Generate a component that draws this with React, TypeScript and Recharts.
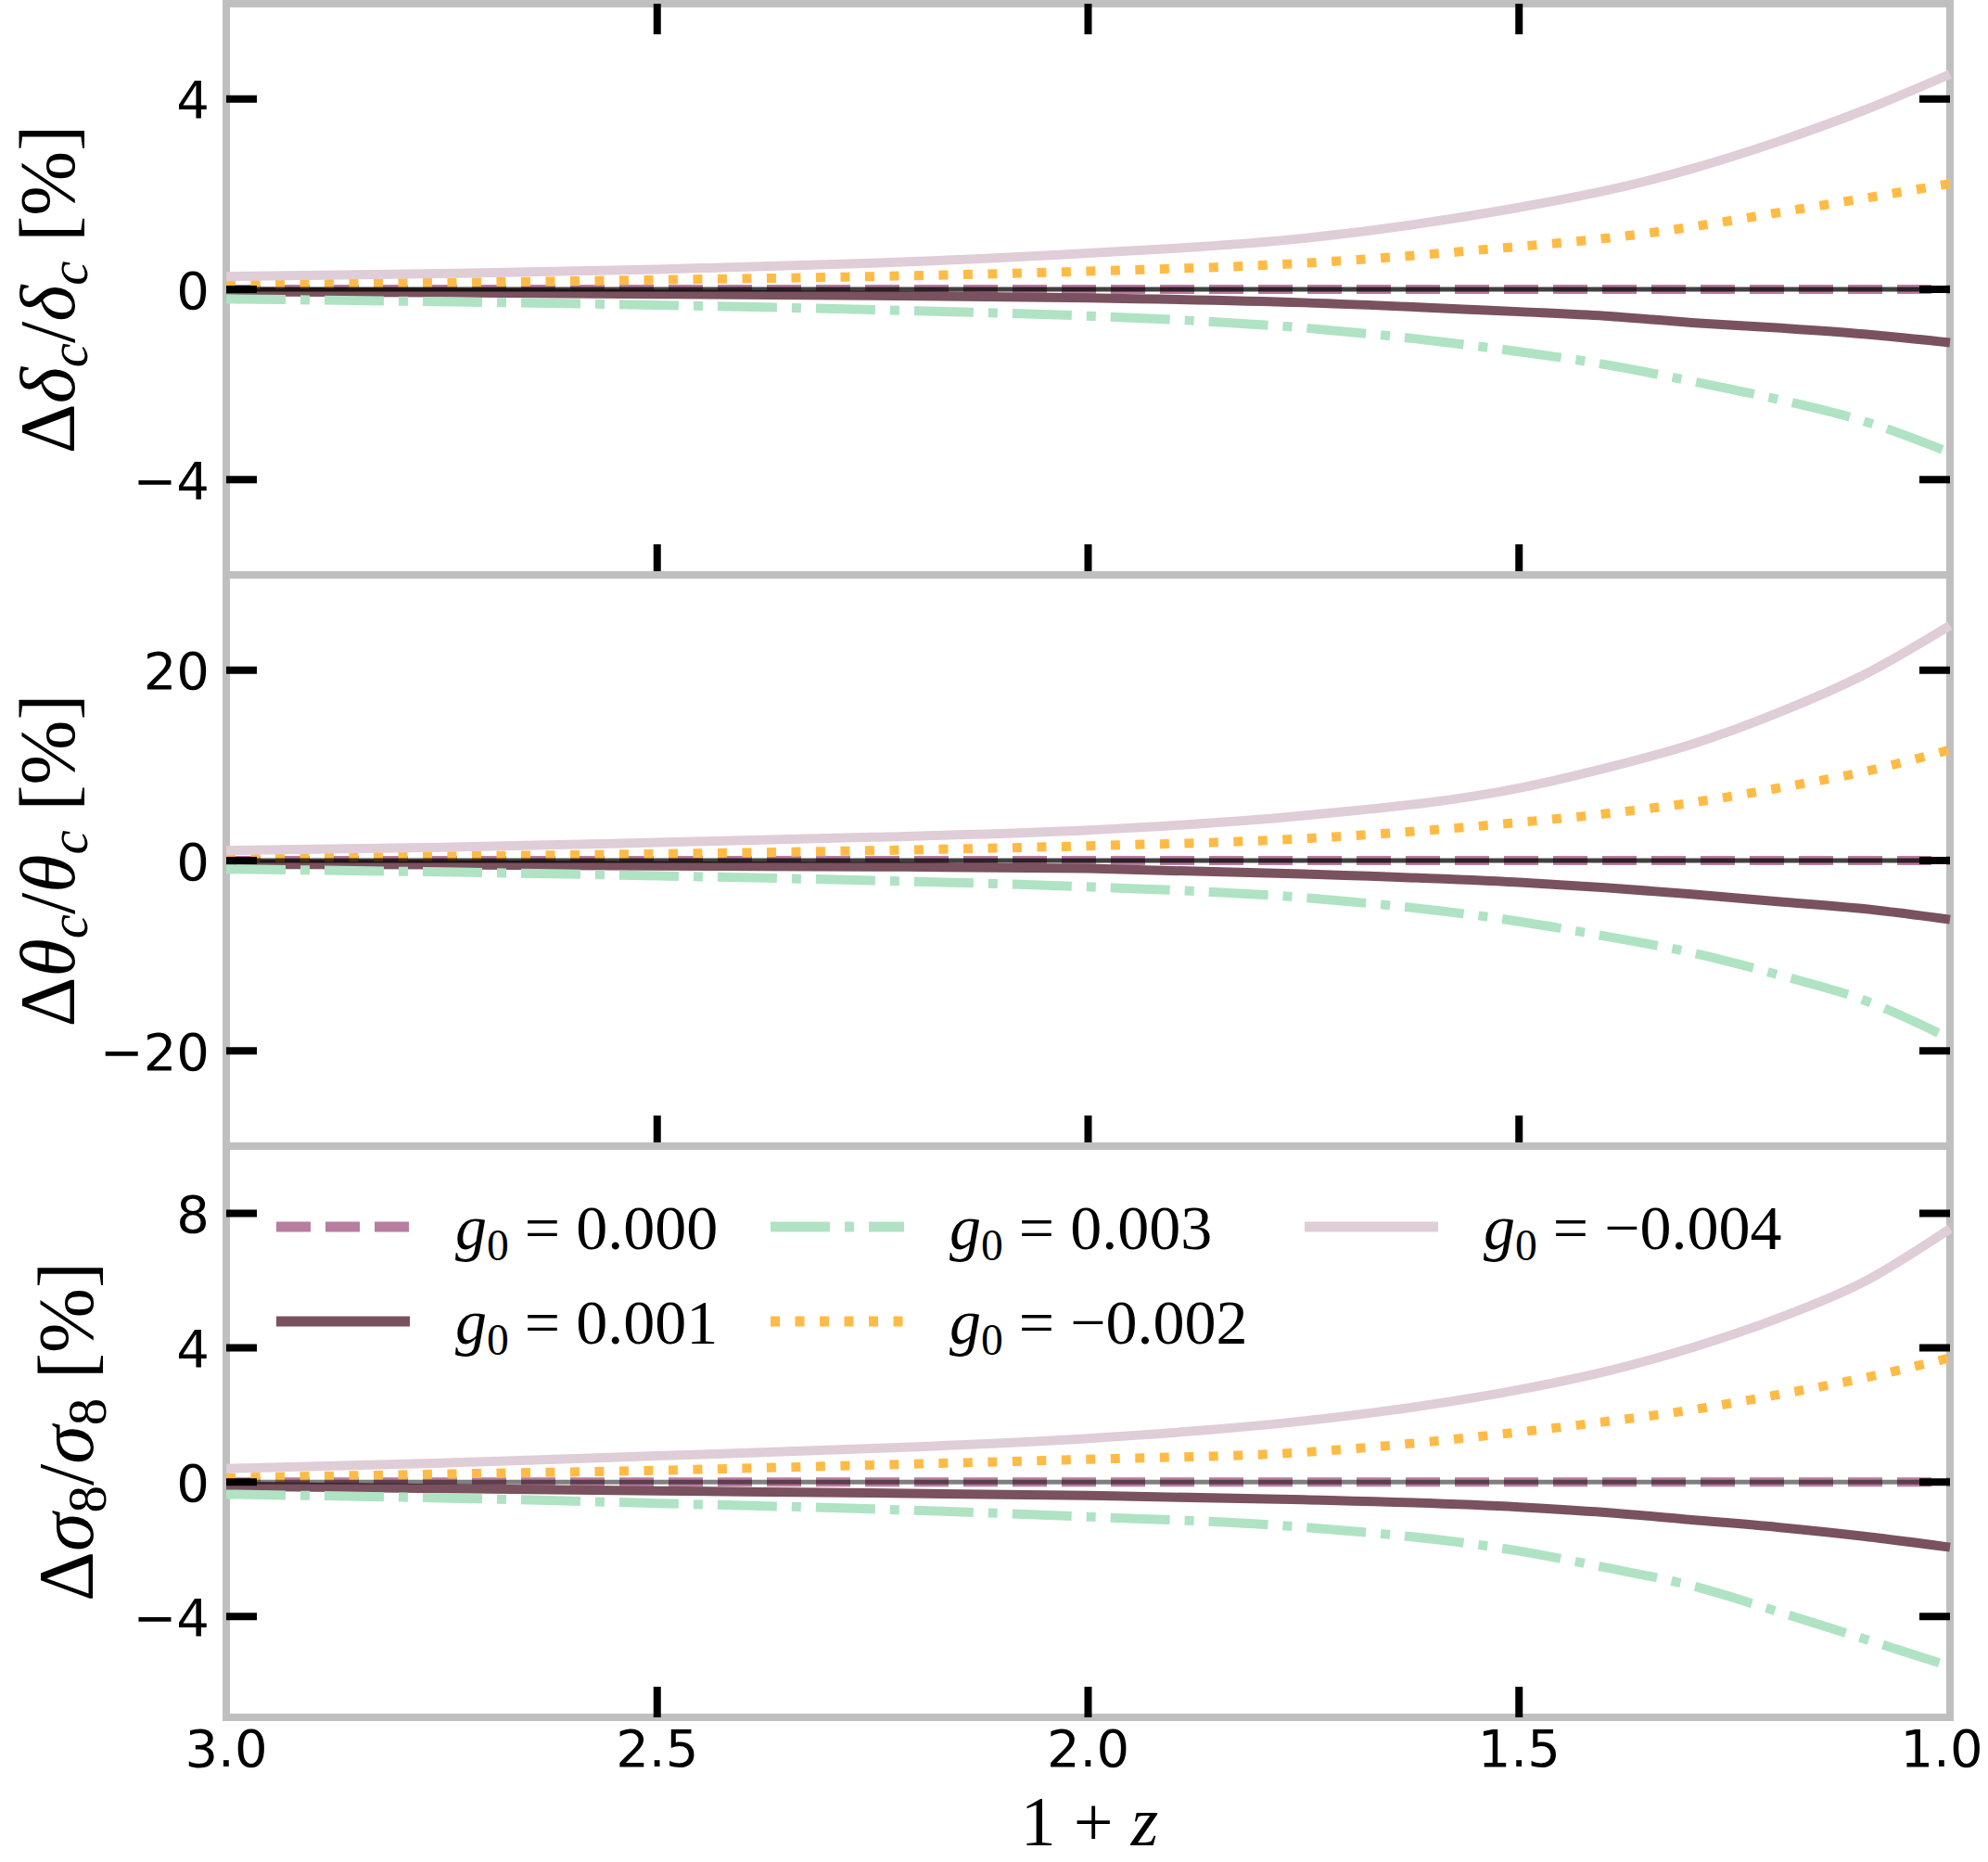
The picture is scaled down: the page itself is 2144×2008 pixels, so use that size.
import React from "react";
import {
  LineChart,
  Line,
  XAxis,
  YAxis,
  ReferenceLine,
  ReferenceArea,
  Legend
} from "recharts";

const W = 2144;
const H = 2008;
const PLOT_LEFT = 244;
const PLOT_RIGHT = 2103;
const TICK_LEN = 33;
const MATH_FONT = "Liberation Serif";
const TICK_FONT = "DejaVu Sans";

// 1 + z sample points (axis runs 3.0 -> 1.0)
const zGrid = [3.0, 2.75, 2.5, 2.25, 2.0, 1.75, 1.5, 1.4, 1.3, 1.2, 1.1, 1.0];
const xTicks = [3.0, 2.5, 2.0, 1.5, 1.0];

// g0 = 0.000 is the reference model, zero everywhere
const zeroCurve = [0, 0, 0, 0, 0, 0, 0, 0, 0, 0, 0, 0];

// Δδc/δc [%]
const deltaG001 = [-0.05, -0.07, -0.1, -0.13, -0.18, -0.28, -0.47, -0.56, -0.7, -0.81, -0.94, -1.12];
const deltaG003 = [-0.2, -0.26, -0.33, -0.43, -0.56, -0.81, -1.31, -1.58, -1.93, -2.31, -2.77, -3.43];
const deltaGm002 = [0.1, 0.14, 0.2, 0.27, 0.38, 0.55, 0.9, 1.07, 1.31, 1.61, 1.91, 2.22];
const deltaGm004 = [0.27, 0.33, 0.42, 0.55, 0.76, 1.07, 1.72, 2.07, 2.53, 3.1, 3.76, 4.52];

// Δθc/θc [%]
const thetaG001 = [-0.4, -0.45, -0.55, -0.65, -0.84, -1.42, -2.3, -2.84, -3.53, -4.3, -5.07, -6.2];
const thetaG003 = [-0.9, -1.2, -1.6, -2.1, -2.76, -3.9, -6.4, -7.95, -9.67, -11.98, -14.66, -18.7];
const thetaGm002 = [0.28, 0.45, 0.7, 1.05, 1.54, 2.3, 4.0, 4.91, 6.07, 7.6, 9.33, 11.63];
const thetaGm004 = [1.05, 1.4, 1.9, 2.45, 3.19, 4.72, 7.6, 9.7, 12.2, 15.5, 19.5, 24.7];

// Δσ8/σ8 [%]
const sigmaG001 = [-0.12, -0.19, -0.26, -0.32, -0.4, -0.52, -0.74, -0.9, -1.12, -1.34, -1.61, -1.94];
const sigmaG003 = [-0.36, -0.47, -0.63, -0.8, -1.03, -1.34, -2.05, -2.54, -3.08, -3.85, -4.66, -5.48];
const sigmaGm002 = [0.13, 0.24, 0.35, 0.51, 0.68, 0.89, 1.49, 1.8, 2.15, 2.6, 3.1, 3.7];
const sigmaGm004 = [0.4, 0.57, 0.78, 1.0, 1.3, 1.82, 2.75, 3.29, 4.0, 4.87, 5.96, 7.54];

const seriesKeys = ["g000", "g001", "g003", "gm002", "gm004"];
const seriesLabels = ["0.000", "0.001", "0.003", "\u22120.002", "\u22120.004"];
const seriesColors = ["#b87d9f", "#7a515e", "#afe3c3", "#ffbb45", "#dfcdd7"];
const seriesDashes = ["37 16", undefined, "64 16 10 16", "10 16.5", undefined];

const buildRows = (cols: number[][]) =>
  zGrid.map((z, i) => {
    const row: Record<string, number> = { z };
    seriesKeys.forEach((k, j) => {
      row[k] = cols[j][i];
    });
    return row;
  });

type Part = { t: string; it?: boolean; sub?: boolean };

const renderParts = (parts: Part[], size: number) => {
  let shift = 0;
  return parts.map((p, i) => {
    const target = p.sub ? size * 0.17 : 0;
    const dy = target - shift;
    shift = target;
    return (
      <tspan
        key={i}
        dy={dy}
        fontStyle={p.it ? "italic" : "normal"}
        fontSize={p.sub ? size * 0.7 : size}
        style={{ whiteSpace: "pre" }}
      >
        {p.t}
      </tspan>
    );
  });
};

const panels = [
  {
    id: "delta",
    top: 4,
    bottom: 620,
    domain: [-6, 6],
    ticks: [-4, 0, 4],
    cols: [zeroCurve, deltaG001, deltaG003, deltaGm002, deltaGm004],
    zeroOpacity: 0.75,
    titleX: 80,
    title: [
      { t: "\u0394" },
      { t: "\u03b4", it: true },
      { t: "c", it: true, sub: true },
      { t: "/" },
      { t: "\u03b4", it: true },
      { t: "c", it: true, sub: true },
      { t: " [%]" }
    ],
    topTicks: true,
    last: false
  },
  {
    id: "theta",
    top: 620,
    bottom: 1236,
    domain: [-30, 30],
    ticks: [-20, 0, 20],
    cols: [zeroCurve, thetaG001, thetaG003, thetaGm002, thetaGm004],
    zeroOpacity: 0.75,
    titleX: 80,
    title: [
      { t: "\u0394" },
      { t: "\u03b8", it: true },
      { t: "c", it: true, sub: true },
      { t: "/" },
      { t: "\u03b8", it: true },
      { t: "c", it: true, sub: true },
      { t: " [%]" }
    ],
    topTicks: false,
    last: false
  },
  {
    id: "sigma",
    top: 1236,
    bottom: 1852,
    domain: [-7, 10],
    ticks: [-4, 0, 4, 8],
    cols: [zeroCurve, sigmaG001, sigmaG003, sigmaGm002, sigmaGm004],
    zeroOpacity: 0.5,
    titleX: 100,
    title: [
      { t: "\u0394" },
      { t: "\u03c3", it: true },
      { t: "8", sub: true },
      { t: "/" },
      { t: "\u03c3", it: true },
      { t: "8", sub: true },
      { t: " [%]" }
    ],
    topTicks: false,
    last: true
  }
];

function YTitle({ ax, ay, parts }: { ax: number; ay: number; parts: Part[] }) {
  return (
    <text
      transform={`translate(${ax},${ay}) rotate(-90)`}
      textAnchor="middle"
      fontFamily={MATH_FONT}
      fontSize={84}
      fill="#000"
    >
      {renderParts(parts, 84)}
    </text>
  );
}

function XTitle() {
  return (
    <text x={1175} y={1990} textAnchor="middle" fontFamily={MATH_FONT} fontSize={76} fill="#000">
      {renderParts([{ t: "1 + " }, { t: "z", it: true }], 76)}
    </text>
  );
}

const fmtY = (v: number) => (v < 0 ? "\u2212" + Math.abs(v) : String(v));

function LegendBox() {
  // origin of this box on the page: (280, 1270)
  const cols = [18, 551, 1127];
  const rows = [53, 155];
  const slots = [
    [0, 0],
    [0, 1],
    [1, 0],
    [1, 1],
    [2, 0]
  ];
  return (
    <svg width={1700} height={200}>
      {slots.map(([c, r], i) => (
        <g key={seriesKeys[i]}>
          <line
            x1={cols[c]}
            x2={cols[c] + 144}
            y1={rows[r]}
            y2={rows[r]}
            stroke={seriesColors[i]}
            strokeWidth={11}
            strokeDasharray={seriesDashes[i]}
          />
          <text x={cols[c] + 193} y={rows[r] + 24} fontFamily={MATH_FONT} fontSize={68} fill="#000">
            {renderParts(
              [{ t: "g", it: true }, { t: "0", sub: true }, { t: " = " + seriesLabels[i] }],
              68
            )}
          </text>
        </g>
      ))}
    </svg>
  );
}

function Panel({ p }: { p: (typeof panels)[number] }) {
  const rows = buildRows(p.cols);
  return (
    <div style={{ position: "absolute", left: 0, top: 0 }}>
      <LineChart
        width={W}
        height={H}
        data={rows}
        margin={{ top: p.top, right: W - PLOT_RIGHT, bottom: 0, left: 0 }}
      >
        <XAxis
          type="number"
          dataKey="z"
          domain={[1, 3]}
          reversed
          ticks={xTicks}
          interval={0}
          height={H - p.bottom}
          axisLine={false}
          tickLine={false}
          tick={(props: any) => {
            const v = Number(props.payload.value);
            const inner = v > 1 && v < 3;
            return (
              <g>
                {inner && (
                  <line
                    x1={props.x}
                    x2={props.x}
                    y1={p.bottom}
                    y2={p.bottom - TICK_LEN}
                    stroke="#000"
                    strokeWidth={8}
                  />
                )}
                {inner && p.topTicks && (
                  <line
                    x1={props.x}
                    x2={props.x}
                    y1={p.top}
                    y2={p.top + TICK_LEN}
                    stroke="#000"
                    strokeWidth={8}
                  />
                )}
                {p.last && (
                  <text
                    x={Math.min(props.x, W - 50)}
                    y={1905}
                    textAnchor="middle"
                    fontFamily={TICK_FONT}
                    fontSize={56}
                    fill="#000"
                  >
                    {v.toFixed(1)}
                  </text>
                )}
              </g>
            );
          }}
          label={p.last ? <XTitle /> : undefined}
        />
        <YAxis
          type="number"
          domain={p.domain}
          ticks={p.ticks}
          interval={0}
          width={PLOT_LEFT}
          axisLine={false}
          tickLine={false}
          tick={(props: any) => (
            <g>
              <text
                x={226}
                y={props.y + 20.5}
                textAnchor="end"
                fontFamily={TICK_FONT}
                fontSize={56}
                fill="#000"
              >
                {fmtY(props.payload.value)}
              </text>
              <line
                x1={PLOT_LEFT}
                x2={PLOT_LEFT + TICK_LEN}
                y1={props.y}
                y2={props.y}
                stroke="#000"
                strokeWidth={8}
              />
              <line
                x1={PLOT_RIGHT}
                x2={PLOT_RIGHT - TICK_LEN}
                y1={props.y}
                y2={props.y}
                stroke="#000"
                strokeWidth={8}
              />
            </g>
          )}
          label={<YTitle ax={p.titleX} ay={(p.top + p.bottom) / 2} parts={p.title} />}
        />
        {seriesKeys.map((k, i) => (
          <Line
            key={k}
            dataKey={k}
            type="monotone"
            stroke={seriesColors[i]}
            strokeWidth={10}
            strokeDasharray={seriesDashes[i]}
            dot={false}
            activeDot={false}
            isAnimationActive={false}
          />
        ))}
        <ReferenceLine y={0} stroke="#000" strokeOpacity={p.zeroOpacity} strokeWidth={5} />
        <ReferenceArea
          x1={3}
          x2={1}
          y1={p.domain[0]}
          y2={p.domain[1]}
          fill="none"
          fillOpacity={0}
          stroke="#bfbfbf"
          strokeWidth={8}
        />
        {p.last && (
          <Legend
            layout="horizontal"
            verticalAlign="middle"
            align="center"
            content={() => <LegendBox />}
            wrapperStyle={{ left: 280, top: 1270, width: 1700, height: 200 }}
          />
        )}
      </LineChart>
    </div>
  );
}

export default function App() {
  return (
    <div style={{ position: "relative", width: W, height: H, background: "#fff" }}>
      <style>{"body{margin:0}"}</style>
      {panels.map(p => (
        <Panel key={p.id} p={p} />
      ))}
    </div>
  );
}
